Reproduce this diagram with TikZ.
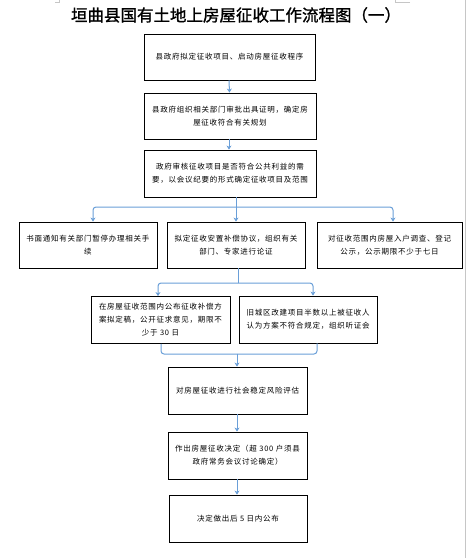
\documentclass[tikz,border=0pt]{standalone}
\usepackage{fontspec}
\setmainfont{Noto Sans CJK SC}
\usetikzlibrary{arrows.meta}
\definecolor{connblue}{HTML}{6A9FD8}
\tikzset{
  flowbox/.style={draw=black, line width=0.9pt, align=center, inner sep=2pt,
    font={\fontsize{7.5}{13}\selectfont\addfontfeature{LetterSpace=10}}},
  conn/.style={draw=connblue, line width=1pt},
  arr/.style={conn, -{Stealth[length=4pt,width=5pt]}},
  corner/.style={draw=gray!45, line width=0.6pt}
}
\begin{document}
\begin{tikzpicture}[x=1pt,y=-1pt]
\useasboundingbox (0,0) rectangle (469,558);
\fill[white] (0,0) rectangle (469,558);
% page marks
\draw[corner] (55,2.5) -- (59.5,2.5) -- (59.5,0);
\draw[corner] (410,2.5) -- (395.5,2.5) -- (395.5,0);
\draw[corner] (465.5,0) -- (465.5,558);
% title
\node[font={\fontsize{16.5}{20}\selectfont\addfontfeature{FakeBold=1.2}}] (title) at (236,15) {垣曲县国有土地上房屋征收工作流程图（一）};
% boxes
\node[flowbox, minimum width=171pt, minimum height=46pt] (b1) at (229.5,57) {县政府拟定征收项目、启动房屋征收程序};
\node[flowbox, minimum width=172pt, minimum height=46pt] (b2) at (230,116) {县政府组织相关部门审批出具证明，确定房\\屋征收符合有关规划};
\node[flowbox, minimum width=172pt, minimum height=47pt] (b3) at (230,173.5) {政府审核征收项目是否符合公共利益的需\\要，以会议纪要的形式确定征收项目及范围};
\node[flowbox, minimum width=138pt, minimum height=46pt] (b4) at (88,245) {书面通知有关部门暂停办理相关手\\续};
\node[flowbox, minimum width=138pt, minimum height=46pt] (b5) at (236,245) {拟定征收安置补偿协议，组织有关\\部门、专家进行论证};
\node[flowbox, minimum width=145pt, minimum height=46pt] (b6) at (389.5,245) {对征收范围内房屋入户调查、登记\\公示，公示期限不少于七日};
\node[flowbox, minimum width=139pt, minimum height=47pt] (b7) at (160.5,320) {在房屋征收范围内公布征收补偿方\\案拟定稿，公开征求意见，期限不\\少于 30 日};
\node[flowbox, minimum width=138pt, minimum height=47pt] (b8) at (308,319.5) {旧城区改建项目半数以上被征收人\\认为方案不符合规定，组织听证会};
\node[flowbox, minimum width=139pt, minimum height=47pt] (b9) at (237.5,390.5) {对房屋征收进行社会稳定风险评估};
\node[flowbox, minimum width=139pt, minimum height=47pt] (b10) at (237.5,455.5) {作出房屋征收决定（超 300 户须县\\政府常务会议讨论确定）};
\node[flowbox, minimum width=138pt, minimum height=47pt] (b11) at (238,518.5) {决定做出后 5 日内公布};
% junction coordinates
\coordinate (j1) at (236,207);
\coordinate (j2) at (238,283);
\coordinate (j3) at (237,354);
% connectors
\draw[arr] ([xshift=-0.5pt]b1.south) -- ([xshift=-0.5pt]b2.north);
\draw[arr] ([xshift=-1pt]b2.south) -- ([xshift=-1pt]b3.north);
\draw[conn] (b3.south -| j1) -- (j1);
\draw[arr, rounded corners=3pt] (j1) -| ([xshift=5pt]b4.north);
\draw[arr, rounded corners=3pt] (j1) -| ([xshift=3.5pt]b6.north);
\draw[arr] (j1) -- (b5.north);
\draw[conn] (b5.south -| j2) -- (j2);
\draw[arr, rounded corners=3pt] (j2) -| ([xshift=-2.5pt]b7.north);
\draw[arr, rounded corners=3pt] (j2) -| ([xshift=5pt]b8.north);
\draw[conn, rounded corners=3pt] ([xshift=0.5pt]b7.south) |- (j3);
\draw[conn, rounded corners=3pt] ([xshift=9pt]b8.south) |- (j3);
\draw[arr] (j3) -- (b9.north -| j3);
\draw[arr] (b9.south -| j3) -- (b10.north -| j3);
\draw[arr] (b10.south -| j3) -- (b11.north -| j3);
\end{tikzpicture}
\end{document}
